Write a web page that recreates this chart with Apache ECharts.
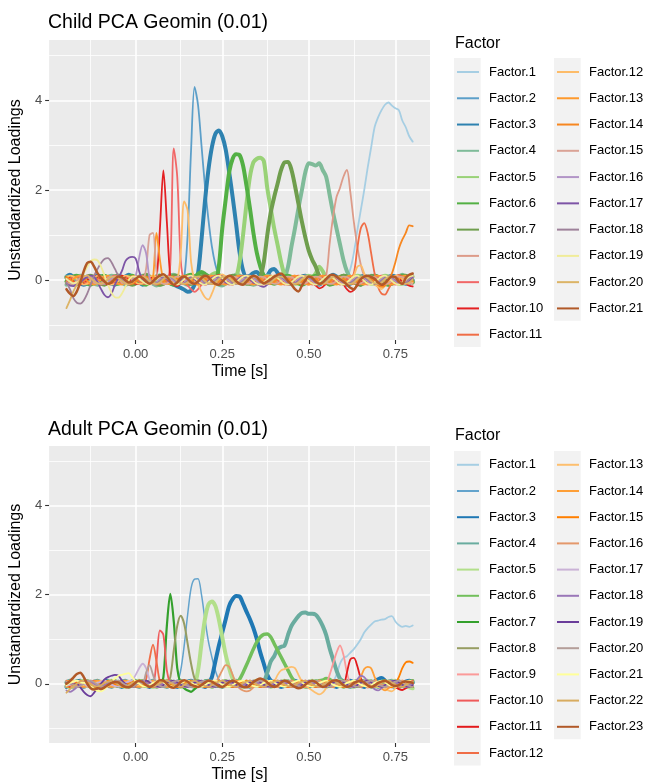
<!DOCTYPE html>
<html>
<head>
<meta charset="utf-8">
<script src="https://cdn.jsdelivr.net/npm/echarts@6/dist/echarts.min.js"></script>
<style>
html, body { margin: 0; padding: 0; background: #fff; }
#main_chart { width: 646px; height: 784px; }
</style>
</head>
<body>
<div id="main_chart"></div>
<script>
// time grid in seconds (-0.20 .. 0.80, step 0.01)
var times = [];
for (var i = 0; i <= 100; i++) times.push((i - 20) / 100);

var xTicks = [0, 0.25, 0.5, 0.75];
var xMinor = [-0.125, 0.125, 0.375, 0.625];
var yTicks = [0, 2, 4];
var yMinor = [-1, 1, 3, 5];

// Child PCA Geomin loadings (Factor.1 .. Factor.21)
var childF1 = [.03,.07,.08,.05,0,-.03,-.05,-.02,.03,.07, .08,.07,.03,0,-.03,-.07,-.05,0,.05,.08, .1,.07,.02,-.03,-.07,-.05,0,.05,.08,.07, .03,-.02,-.05,-.07,-.03,.02,.07,.1,.08,.03, -.02,-.07,-.08,-.05,0,.05,.08,.07,.03,-.02, -.05,-.07,-.03,.02,.07,.08,.05,0,-.05,-.08, -.07,-.02,.03,.08,.1,.07,.02,-.03,-.07,-.05, 0,.05,.08,.07,.03,-.02,-.05,-.03,.02,.07, .1,.1,.25,.6,1.1,1.55,2.0,2.5,2.95,3.4, 3.62,3.78,3.9,3.95,3.88,3.82,3.78,3.55,3.4,3.2, 3.08];
var childF2 = [-.05,-.08,-.07,-.02,.03,.07,.05,0,-.05,-.07, -.03,.02,.07,.08,.05,0,-.05,-.08,-.05,0, .05,.08,.07,.02,-.03,-.07,-.05,0,.05,.08, .07,.02,-.03,-.05,.05,1.0,2.9,4.3,3.9,3.0, 2.1,1.35,.75,.35,.1,0,-.05,-.07,-.03,.02, .05,.07,.03,-.02,-.07,-.08,-.05,0,.05,.07, .05,0,-.05,-.07,-.03,.02,.07,.08,.05,0, -.05,-.08,-.07,-.02,.03,.07,.08,.05,0,-.05, -.08,-.07,-.02,.05,.08,.07,.02,-.03,-.07,-.05, 0,.05,.08,.07,.02,-.03,-.07,-.05,0,.05, .07];
var childF3 = [.08,.12,.07,0,-.07,-.1,-.07,0,.07,.1, .08,.03,-.03,-.08,-.1,-.05,.02,.08,.12,.08, .02,-.05,-.1,-.08,-.03,.03,.08,.1,.05,-.02, -.07,-.1,-.14,-.17,-.21,-.26,-.23,-.1,.15,.9, 1.75,2.45,2.95,3.25,3.33,3.2,2.9,2.4,1.85,1.25, .62,.22,.08,.1,.16,.18,.1,.06,.1,.22, .25,.16,.06,0,-.07,-.08,-.03,.03,.08,.1, .05,-.02,-.08,-.1,-.05,.02,.08,.12,.08,.02, -.05,-.1,-.08,-.03,.03,.08,.1,.05,-.02,-.07, -.1,-.07,0,.07,.1,.08,.02,-.05,-.08,-.07, 0];
var childF4 = [-.1,-.07,0,.07,.1,.08,.03,-.03,-.08,-.1, -.07,0,.07,.1,.08,.02,-.05,-.1,-.08,-.03, .03,.08,.1,.05,-.02,-.08,-.12,-.08,-.02,.05, .1,.12,.07,0,-.07,-.1,-.08,-.02,.05,.1, .12,.08,.02,-.05,-.1,-.12,-.07,0,.07,.12, .1,.05,-.02,-.08,-.1,-.07,0,.07,.1,.08, .03,-.03,-.05,.05,.3,.75,1.15,1.6,2.0,2.4, 2.6,2.58,2.55,2.6,2.45,2.3,1.9,1.5,1.15,.8, .45,.2,.05,-.03,-.08,-.07,0,.07,.1,.08, .03,-.03,-.08,-.1,-.05,.02,.08,.12,.08,.02, -.05];
var childF5 = [.07,.02,-.05,-.08,-.07,-.02,.05,.08,.07,.02, -.05,-.08,-.07,0,.07,.1,.07,.02,-.05,-.08, -.07,0,.07,.1,.08,.02,-.05,-.1,-.08,-.02, .05,.1,.08,.03,-.03,-.08,-.08,-.03,.03,.08, .1,.07,.12,.16,.12,.06,.02,-.03,-.05,.05, .4,1.0,1.7,2.3,2.62,2.7,2.72,2.65,2.05,1.6, 1.15,.78,.4,.12,.04,-.03,-.08,-.07,0,.07, .1,.08,.15,.3,.2,.06,-.05,-.08,-.03,.03, -.08,-.07,0,.07,.1,.08,.02,-.05,-.08,-.07, 0,.07,.1,.08,.03,-.03,-.08,-.08,-.03,.03, .08];
var childF6 = [-.03,.03,.08,.1,.05,-.02,-.08,-.1,-.05,.02, .08,.1,.05,-.02,-.07,-.08,-.03,.03,.08,.1, .05,-.03,-.08,-.1,-.05,.02,.08,.1,.07,0, -.07,-.1,-.07,0,.07,.1,.12,.08,.14,.18, .14,.08,.03,-.03,.3,1.15,1.8,2.4,2.7,2.8, 2.78,2.55,2.1,1.6,1.05,.6,.3,.1,.02,-.05, -.08,-.05,.02,.08,.1,.07,0,-.07,-.1,-.07, 0,.07,.1,.08,.02,-.05,-.1,-.08,-.02,.05, .1,.08,.03,-.03,-.08,-.1,-.05,.02,.08,.1, .07,0,-.07,-.1,-.07,0,.07,.1,.08,.02, -.05];
var childF7 = [.05,-.02,-.07,-.08,-.03,.03,.08,.1,.05,-.02, -.08,-.1,-.05,.02,.08,.1,.07,0,-.07,-.1, -.07,.02,.08,.12,.08,0,-.07,-.1,-.08,-.02, .05,.1,.1,.03,-.03,-.08,-.08,-.03,.03,.08, .1,.07,.02,-.05,-.08,-.07,0,.07,.1,.08, .03,-.03,-.08,-.08,-.03,.03,.08,.4,1.0,1.5, 1.85,2.15,2.45,2.62,2.63,2.45,2.1,1.7,1.3,.95, .65,.45,.3,.1,.03,-.05,-.08,-.07,0,.07, .1,.08,.03,-.03,-.08,-.1,-.05,.02,.08,.1, .07,.02,-.05,-.08,-.08,-.03,.03,.08,.1,.05, -.02];
var childF8 = [-.07,-.02,.05,.08,.07,.02,-.05,-.08,-.07,0, .05,.08,.07,.02,-.05,-.08,-.07,-.02,.05,.08, .07,.02,-.05,-.08,-.07,0,.07,.08,.05,-.02, -.07,-.08,-.05,.02,.07,.08,.05,-.02,-.07,-.08, -.05,.02,.08,.1,.05,-.02,-.07,-.08,-.03,.03, .08,.08,.03,-.03,-.08,-.08,-.03,.03,.08,.08, .03,-.03,-.08,-.08,-.03,.03,.08,.08,.03,-.03, -.08,-.07,-.02,.05,.08,.1,.8,1.4,1.85,2.05, 2.3,2.45,1.95,1.3,.75,.35,.1,.03,-.05,-.08, -.05,.02,.07,.08,.05,-.02,-.07,-.08,-.03,.03, .07];
var childF9 = [.02,-.05,-.08,-.07,0,.07,.1,.07,0,-.07, -.1,-.07,0,.07,.1,.07,0,-.07,-.1,-.05, .02,.08,.1,.05,-.02,-.08,-.1,-.05,.02,0, .35,2.93,2.3,.45,-.05,-.12,-.2,-.26,-.2,-.1, 0,.08,.1,.05,-.02,-.07,-.08,-.03,.03,.08, .1,.05,-.02,-.07,-.08,-.03,.03,.08,.08,.03, -.03,-.08,-.08,-.03,.03,.08,.1,.05,-.02,-.07, -.1,-.07,0,.07,.1,.08,.02,-.05,-.08,-.08, -.03,.03,.08,.1,.05,-.02,-.07,-.1,-.07,0, .07,.1,.08,.02,-.05,-.1,-.08,-.02,.05,.08, .08];
var childF10 = [.08,.05,-.02,-.07,-.1,-.07,0,.07,.1,.08, .02,-.05,-.1,-.08,-.02,.05,.1,.08,.03,-.03, -.08,-.08,-.03,.03,.08,.03,.05,1.15,2.44,1.3, .08,-.1,-.13,-.08,-.02,.05,.08,.07,0,-.07, -.1,-.07,.02,.08,.12,.08,.02,-.07,-.1,-.07, 0,.07,.1,.08,0,-.07,-.1,-.08,-.02,.05, .1,.08,.02,-.07,-.1,-.08,-.02,.05,.1,.08, .03,-.05,-.12,-.18,-.15,-.08,0,.07,.03,-.07, -.1,-.2,-.26,-.22,-.12,-.07,.03,.08,.05,-.03, -.1,-.13,-.08,-.02,.05,.08,.05,-.03,-.08,-.12, -.14];
var childF11 = [-.03,.03,.08,.08,.03,-.03,-.08,-.08,-.03,.03, .08,.08,.03,-.03,-.08,-.08,-.03,.03,.08,.08, .03,-.03,-.08,-.08,-.03,.03,.08,.08,.03,-.03, -.08,-.08,-.03,.03,.08,.1,.05,-.02,-.07,-.1, -.07,0,.07,.1,.07,0,-.07,-.1,-.07,0, .07,.1,.07,0,-.07,-.1,-.07,0,.07,.1, .07,0,-.07,-.1,-.07,0,.07,.1,.07,0, -.07,-.1,-.07,0,.07,.1,.07,0,-.07,-.1, -.07,0,.03,.15,.7,1.15,1.27,1.05,.6,.15, -.15,-.3,-.32,-.2,-.05,.08,.12,.08,0,-.05, -.03];
var childF12 = [.05,.1,.08,.02,-.05,-.1,-.08,-.02,.05,.1, .08,.02,-.05,-.1,-.08,-.02,.05,.1,.08,.02, -.05,-.08,-.07,0,.07,.1,.07,0,-.07,-.08, -.05,.02,.03,.6,1.75,1.55,.4,0,-.1,-.25, -.38,-.43,-.3,-.1,.08,.13,.08,0,-.07,-.08, -.03,.03,.08,.1,.05,-.02,-.08,-.1,-.05,.02, .08,.1,.05,-.02,-.08,-.1,-.05,.02,.08,.1, .05,-.02,-.08,-.1,-.05,.02,.08,.1,.05,-.02, -.08,-.07,0,.1,.3,.33,.15,.03,-.07,-.1, -.15,-.2,-.12,-.03,.05,.1,.08,.02,-.05,-.08, -.05];
var childF13 = [-.08,-.05,.02,.08,.1,.05,-.02,-.08,-.1,-.05, .02,.08,.1,.05,-.02,-.08,-.1,-.05,.02,.08, .1,.05,-.02,-.08,-.03,.05,1.05,.45,0,-.08, -.08,-.03,.03,.08,.1,.05,-.02,-.08,-.1,-.05, .02,.08,.1,.05,-.02,-.08,-.1,-.05,.02,.08, .1,.05,-.02,-.08,-.1,-.05,.02,.08,.1,.05, -.02,-.08,-.1,-.05,.02,.08,.1,.05,-.02,-.08, -.1,-.05,.02,.08,.1,.05,-.02,-.08,-.1,-.05, .02,.08,.1,.05,-.02,-.08,-.1,-.05,.02,.08, .1,.05,-.02,-.08,-.1,-.05,.02,.08,.1,.05, -.02];
var childF14 = [.07,.02,-.05,-.08,-.07,0,.07,.08,.05,-.02, -.07,-.08,-.03,.03,.08,.08,.03,-.03,-.08,-.08, -.03,.03,.08,.08,.03,-.03,-.08,-.08,-.03,.03, .08,.08,.03,-.03,-.08,-.08,-.03,.03,.08,.08, .03,-.03,-.08,-.08,-.03,.03,.08,.08,.03,-.03, -.08,-.08,-.03,.03,.08,.08,.03,-.03,-.08,-.08, -.03,.03,.08,.08,.03,-.03,-.08,-.08,-.03,.03, .08,.08,.03,-.03,-.08,-.08,-.03,.03,.08,.08, .03,-.03,-.08,-.08,-.03,.03,.08,.08,.03,-.03, -.1,-.15,-.12,.02,.15,.4,.7,.9,1.05,1.22, 1.2];
var childF15 = [-.05,-.08,-.07,-.02,.05,.08,.07,.02,-.05,-.08, -.07,-.02,.05,.08,.07,.02,-.05,-.08,-.07,-.02, .05,.08,0,.25,1.0,1.05,.2,-.03,-.08,-.07, -.02,.05,.08,.07,.02,-.05,-.08,-.07,-.02,.05, .08,.07,.02,-.05,-.08,-.07,-.02,.05,.08,.07, .02,-.05,-.08,-.07,-.02,.05,.08,.07,.02,-.05, -.08,-.07,-.02,.05,.08,.07,.02,-.05,-.08,-.07, -.02,.05,.08,.07,.02,-.05,-.08,-.07,-.02,.05, .08,.07,.02,-.05,-.08,-.07,-.02,.05,.08,.07, .02,-.05,-.08,-.07,-.02,.05,.08,.07,.02,-.05, -.08];
var childF16 = [.03,-.03,-.08,-.08,-.03,.03,.08,.08,.03,-.03, -.08,-.08,-.03,.03,.08,.08,.03,-.03,-.08,0, .1,.5,.78,.6,.05,-.08,-.05,.02,.07,.08, .05,-.02,-.07,-.08,-.05,.02,.07,.08,.05,-.02, -.07,-.08,-.05,.02,.07,.08,.05,-.02,-.07,-.08, -.05,.02,.07,.08,.05,-.02,-.07,-.08,-.05,.02, .07,.08,.05,-.02,-.07,-.08,-.05,.02,.07,.08, .05,-.02,-.07,-.08,-.05,.02,.07,.08,.05,-.02, -.07,-.08,-.05,.02,.07,.08,.05,-.02,-.07,-.08, -.05,.02,.07,.08,.05,-.02,-.07,-.08,-.05,.02, .07];
var childF17 = [-.08,-.12,-.13,-.1,-.05,.02,.07,.1,.08,-.05, -.2,-.33,-.38,-.3,-.1,.05,.2,.42,.5,.52, .48,.2,0,-.08,-.07,-.02,.05,.08,.07,.02, -.05,-.08,-.07,-.02,.05,.08,.07,.02,-.05,-.08, -.07,-.02,.05,.08,.07,.02,-.05,-.08,-.07,-.02, .05,.08,.07,.02,-.05,-.08,-.13,-.15,-.1,-.02, .05,.08,.07,.02,-.05,-.08,-.07,-.02,.05,.08, .07,.02,-.05,-.08,-.07,-.02,.05,.08,.07,.02, -.05,-.08,-.07,-.02,.05,.08,.07,.02,-.05,-.08, -.07,-.02,.05,.08,.07,.02,-.05,-.08,-.07,-.02, .05];
var childF18 = [-.05,-.2,-.4,-.5,-.52,-.45,-.3,-.1,.1,.25, .38,.47,.49,.4,.25,.1,0,-.08,-.07,-.02, .05,.08,.07,.02,-.05,-.08,-.07,-.02,.05,.08, .07,.02,-.05,-.08,-.07,-.02,.05,.08,.07,.02, -.05,-.08,-.07,-.02,.05,.08,.07,.02,-.05,-.08, -.07,-.02,.05,.08,.07,.02,-.05,-.08,-.07,-.02, .05,.08,.07,.02,-.05,-.08,-.07,-.02,.05,.08, .07,.02,-.05,-.08,-.07,-.02,.05,.08,.07,.02, -.05,-.08,-.07,-.02,.05,.08,.07,.02,-.05,-.08, -.07,-.02,.05,.08,.07,.02,-.05,-.08,-.07,.03, .12];
var childF19 = [.03,-.03,-.07,-.05,0,.15,.3,.42,.46,.44, .3,.1,-.1,-.28,-.38,-.39,-.3,-.15,0,.08, .08,.03,-.03,-.08,-.1,-.05,.02,.08,.1,.05, -.02,-.08,-.1,-.05,.02,.08,.1,.05,-.02,-.08, -.1,-.05,.02,.08,.1,.05,-.02,-.08,-.1,-.05, .02,.08,.1,.05,-.02,-.08,-.1,-.05,.02,.08, .1,.05,-.02,-.08,-.1,-.05,.02,.08,.1,.05, -.02,-.08,-.1,-.05,.02,.08,.1,.05,-.02,-.08, -.1,-.05,.02,.08,.1,.05,-.02,-.08,-.1,-.05, .02,.08,.1,.05,-.02,-.08,-.1,-.05,.02,.08, .1];
var childF20 = [-.62,-.45,-.25,-.1,0,.08,.1,.05,-.02,-.07, -.08,-.05,.02,.07,.08,.05,-.02,-.07,-.08,-.05, .02,.07,.08,.05,-.02,-.07,-.08,-.05,.02,.07, .08,.05,-.02,-.07,-.08,-.05,.02,.07,.08,.05, -.02,-.07,-.08,-.05,.02,.07,.08,.05,-.02,-.07, -.08,-.05,.02,.07,.08,.05,-.02,-.07,-.08,-.05, .02,.07,.08,.05,-.02,-.07,-.08,-.05,.02,.07, .08,.05,-.02,-.07,-.08,-.05,.02,.07,.08,.05, -.02,-.07,-.08,-.05,.02,.07,.08,.05,-.02,-.07, -.08,-.05,.02,.07,.08,.05,-.02,-.07,-.08,-.05, .02];
var childF21 = [-.2,-.3,-.35,-.25,-.05,.2,.38,.41,.3,.15, .05,-.03,-.08,-.05,.03,.08,.07,0,-.05,-.03, .03,.08,.05,-.03,-.08,-.03,.05,.1,.13,.07, -.03,-.1,-.05,.05,.08,.03,-.05,-.08,-.03,.05, .1,.07,-.02,-.08,-.1,-.03,.05,.1,.07,-.02, -.08,-.1,-.03,.05,.1,.07,-.02,-.07,-.03,.02, .08,.12,.15,.08,-.02,-.1,-.2,-.25,-.12,0, .08,.05,-.03,-.08,-.05,.03,.1,.12,.08,.02, -.03,-.1,-.17,-.2,-.1,.02,.08,.1,.07,.03, -.05,-.1,-.07,.02,.08,.07,-.03,-.08,.05,.12, .15];

// Adult PCA Geomin loadings (Factor.1 .. Factor.23)
var adultF1 = [-.03,.02,.05,.07,.03,-.02,-.05,-.07,-.03,.02, .05,.07,.03,-.02,-.05,-.07,-.03,.02,.05,.07, .03,-.02,-.05,-.07,-.03,.02,.05,.07,.03,-.02, -.05,-.07,-.03,.02,.05,.07,.03,-.02,-.05,-.07, -.03,.02,.05,.07,.03,-.02,-.05,-.07,-.03,.02, .05,.07,.03,-.02,-.05,-.07,-.03,.02,.05,.07, .03,-.02,-.05,-.07,-.03,.02,.05,.07,.03,-.02, -.05,-.07,-.03,.02,.05,.07,.03,.05,.2,.45, .58,.62,.7,.78,.88,1.0,1.15,1.25,1.33,1.4, 1.42,1.44,1.45,1.5,1.52,1.4,1.32,1.28,1.3,1.28, 1.31];
var adultF2 = [.05,.02,-.03,-.07,-.05,0,.05,.07,.03,-.02, -.05,-.07,-.03,.02,.05,.07,.03,-.02,-.05,-.07, -.03,.02,.05,.07,.03,-.02,-.05,-.07,-.03,.02, .05,.07,.05,.3,.85,1.55,2.15,2.35,2.36,2.0, 1.45,.95,.6,.3,.1,.03,-.03,-.07,-.05,0, .05,.07,.03,-.02,-.05,-.07,-.03,.02,.05,.07, .03,-.02,-.05,-.07,-.03,.02,.05,.07,.03,-.02, -.05,-.07,-.03,.02,.05,.07,.03,-.02,-.05,-.07, -.03,.02,.05,.07,.03,-.02,-.05,-.07,-.03,.02, .05,.07,.03,-.02,-.05,-.07,-.03,.02,.05,.07, .03];
var adultF3 = [-.07,-.03,.02,.05,.07,.03,-.02,-.05,-.07,-.03, .02,.05,.07,.03,-.02,-.05,-.07,-.03,.02,.05, .07,.03,-.02,-.05,-.07,-.03,.02,.05,.07,.03, -.02,-.05,-.07,-.03,.02,.05,.07,.03,-.02,-.05, -.07,0,.15,.5,.85,1.15,1.45,1.75,1.9,1.97, 1.96,1.8,1.62,1.45,1.25,1.0,.7,.45,.2,.07, .03,-.03,-.07,-.05,0,.05,.07,.03,-.02,-.05, -.07,-.03,.02,.05,.07,.03,-.02,-.05,-.07,-.03, .02,.05,.07,.03,-.02,-.05,-.07,-.03,.02,.05, .1,.13,.07,0,-.05,-.07,-.03,.02,.05,.07, .03];
var adultF4 = [.03,.07,.05,0,-.05,-.07,-.03,.02,.05,.07, .03,-.02,-.05,-.07,-.03,.02,.05,.07,.03,-.02, -.05,-.07,-.03,.02,.05,.07,.03,-.02,-.05,-.07, -.03,.02,.05,.07,.03,-.02,-.05,-.07,-.03,.02, .05,.07,.03,-.02,-.05,-.07,-.03,.02,.05,.07, .03,-.02,-.05,-.07,-.03,.02,.05,.06,.25,.5, .62,.78,.83,.86,1.1,1.3,1.42,1.52,1.59,1.6, 1.57,1.57,1.55,1.45,1.3,1.1,.8,.55,.3,.12, .05,-.03,-.07,-.05,0,.05,.07,.03,-.02,-.05, -.07,-.03,.02,.05,.07,.03,-.02,-.05,-.07,-.03, .02];
var adultF5 = [-.05,-.07,-.03,.02,.05,.07,.03,-.02,-.05,-.07, -.03,.02,.05,.07,.03,-.02,-.05,-.07,-.03,.02, .05,.07,.03,-.02,-.05,-.07,-.03,.02,.05,.07, .03,-.02,-.05,-.07,-.03,.02,.05,.03,.3,.9, 1.45,1.78,1.85,1.75,1.45,1.05,.65,.35,.12,.03, -.03,-.07,-.05,0,.05,.07,.03,-.02,-.05,-.07, -.03,.02,.05,.07,.03,-.02,-.05,-.07,-.03,.02, .05,.07,.03,-.02,-.05,-.07,-.03,.02,.05,.07, .03,-.02,-.05,-.07,-.03,.02,.05,.07,.03,-.02, -.05,-.07,-.03,.02,.05,.07,.03,-.02,-.05,-.08, -.1];
var adultF6 = [.02,-.03,-.07,-.05,0,.05,.07,.03,-.02,-.05, -.07,-.03,.02,.05,.07,.03,-.02,-.05,-.07,-.03, .02,.05,.07,.03,-.02,-.05,-.07,-.03,.02,.05, .07,.03,-.02,-.05,-.07,-.03,.02,.05,.07,.03, -.02,-.05,-.07,-.03,.02,.05,.07,.03,-.02,0, .1,.25,.42,.6,.78,.94,1.05,1.11,1.12,1.05, .9,.75,.6,.45,.3,.15,.05,0,-.05,-.07, -.03,.02,.05,.07,.08,.12,.1,.03,-.02,-.05, -.07,-.03,.02,.05,.07,.03,-.02,-.05,-.07,-.03, .02,.05,.07,.03,-.02,-.05,-.07,-.03,.02,.05, .07];
var adultF7 = [-.03,.02,.05,.07,.03,-.02,-.05,-.07,-.03,.02, .05,.07,.03,-.02,-.05,-.07,-.03,.02,.05,.07, .03,-.02,-.05,-.07,-.03,.02,.05,0,.15,1.3, 2.02,1.4,.35,0,-.1,-.15,-.18,-.12,-.05,.03, .07,.05,0,-.05,-.07,-.03,.02,.05,.07,.03, -.02,-.05,-.07,-.03,.02,.05,.07,.03,-.02,-.05, -.07,-.03,.02,.05,.07,.03,-.02,-.05,-.07,-.03, .02,.05,.07,.03,-.02,-.05,-.07,-.03,.02,.05, .07,.03,-.02,-.05,-.07,-.03,.02,.05,.07,.03, -.02,-.05,-.07,-.03,.02,.05,.07,.03,-.02,-.05, -.07];
var adultF8 = [.05,.02,-.03,-.07,-.05,0,.05,.07,.03,-.02, -.05,-.07,-.03,.02,.05,.07,.03,-.02,-.05,-.07, -.03,.02,.05,.07,.03,-.02,-.05,-.07,-.03,0, .15,.75,1.3,1.53,1.35,.9,.45,.12,0,-.05, -.07,-.03,.02,.05,.07,.03,-.02,-.05,-.07,-.03, .02,.05,.07,.03,-.02,-.05,-.07,-.03,.02,.05, .07,.03,-.02,-.05,-.07,-.03,.02,.05,.07,.03, -.02,-.05,-.07,-.03,.02,.05,.07,.03,-.02,-.05, -.07,-.03,.02,.05,.07,.03,-.02,-.05,-.07,-.03, .02,.05,.07,.03,-.02,-.05,-.07,-.03,.02,.05, .07];
var adultF9 = [-.02,-.05,-.07,-.03,.02,.05,.07,.03,-.02,-.05, -.07,-.03,.02,.05,.07,.03,-.02,-.05,-.07,-.03, .02,.05,.07,.03,-.02,-.05,-.07,-.03,.02,.05, .07,.03,-.02,-.05,-.07,-.03,.02,.05,.07,.03, -.02,-.05,-.07,-.03,.02,.05,.07,.03,-.02,-.05, -.07,-.03,.02,.05,.07,.03,-.02,-.05,-.07,-.03, .02,.05,.07,.03,-.02,-.05,-.07,-.03,.02,.05, .07,.03,-.02,-.05,-.07,0,.2,.45,.7,.86, .65,.25,0,-.07,-.03,.02,.05,.07,.03,-.02, -.05,-.07,-.03,.02,.05,.07,.03,-.02,-.05,-.07, -.03];
var adultF10 = [.03,.07,.05,0,-.05,-.07,-.03,.02,.05,.07, .03,-.02,-.05,-.07,-.03,.02,.05,.07,.03,-.02, -.05,-.07,-.03,.02,.05,0,.5,1.2,1.1,.3, 0,-.05,-.07,-.03,.02,.05,.07,.03,-.02,-.05, -.07,-.03,.02,.05,.07,.03,-.02,-.05,-.07,-.03, .02,.05,.07,.03,-.02,-.05,-.07,-.03,.02,.05, .07,.03,-.02,-.05,-.07,-.03,.02,.05,.07,.03, -.02,-.05,-.07,-.03,.02,.05,.07,.03,-.02,-.05, -.07,-.03,.02,.05,.07,.03,-.02,-.05,-.07,-.03, .02,.05,.07,.03,-.02,-.05,-.07,-.03,.02,.05, .07];
var adultF11 = [-.05,-.07,-.03,.02,.05,.07,.03,-.02,-.05,-.07, -.03,.02,.05,.07,.03,-.02,-.05,-.07,-.03,.02, .05,.07,.03,-.02,-.05,-.07,-.03,.02,.05,.07, .03,-.02,-.05,-.07,-.03,.02,.05,.07,.03,-.02, -.05,-.07,-.03,.02,.05,.07,.03,-.02,-.05,-.07, -.03,.02,.05,.07,.03,-.02,-.05,-.07,-.03,.02, .05,.07,.03,-.02,-.05,-.07,-.03,.02,.05,.07, .03,-.02,-.05,-.07,-.03,.02,.05,.07,.03,-.02, -.03,.25,.55,.58,.4,.12,0,-.08,-.07,-.03, .02,.05,.07,.03,-.02,-.08,-.12,-.14,-.1,-.05, 0];
var adultF12 = [.07,.03,-.02,-.05,-.07,-.03,.02,.05,.07,.03, -.02,-.05,-.07,-.03,.02,.05,.07,.03,-.02,-.05, -.07,-.03,0,.1,.55,.88,.5,.05,-.03,-.07, -.03,.02,.05,.07,.03,-.02,-.05,-.07,-.03,.02, .05,.07,.03,-.02,-.05,-.07,-.03,.02,.05,.07, .03,-.02,-.05,-.07,-.03,.02,.05,.07,.03,-.02, -.05,-.07,-.03,.02,.05,.07,.03,-.02,-.05,-.07, -.03,.02,.05,.07,.03,-.02,-.05,-.07,-.03,.02, .05,.07,.03,-.02,-.05,-.07,-.03,.02,.05,.07, .03,-.02,-.05,-.07,-.03,.02,.05,.07,.03,-.02, -.05];
var adultF13 = [-.02,.03,.07,.05,0,-.05,-.07,-.03,.02,.05, .07,.03,-.02,-.05,-.07,-.03,.02,.05,.07,.03, -.02,-.05,-.07,-.03,.02,.05,.07,.03,-.02,-.05, -.07,-.03,.02,.05,.07,.03,-.02,-.05,-.07,-.03, .02,.05,.07,.03,-.02,-.05,-.07,-.03,.02,.05, .07,.03,-.02,-.05,-.07,-.03,.02,.05,.07,0, .05,.2,.3,.33,.36,.38,.35,.2,.05,-.05, -.1,-.15,-.2,-.24,-.2,-.1,0,.05,.07,.03, -.02,-.05,-.07,-.03,.02,.05,.07,.03,-.02,-.05, -.07,-.05,-.1,-.15,-.17,-.1,.02,.03,-.02,-.03, .02];
var adultF14 = [.05,.07,.03,-.02,-.05,-.07,-.03,.02,.05,.07, .03,-.02,-.05,-.07,-.03,.02,.05,.07,.03,-.02, -.05,-.07,-.03,.02,.05,.07,.03,-.02,-.05,-.07, -.03,.02,.05,.07,.03,-.02,-.05,-.07,-.03,.02, .05,.07,.03,-.02,-.05,-.07,-.03,.02,.05,.07, .03,-.02,-.05,-.07,-.03,.02,.05,.07,.03,-.02, -.05,-.07,-.03,.02,.05,.07,.03,-.02,-.05,-.07, -.03,.02,.05,.07,.03,-.02,-.05,-.07,-.03,.02, .05,.07,.03,-.02,.02,.15,.33,.38,.35,.15, 0,-.1,-.15,-.1,-.05,.03,.07,.03,-.02,-.05, -.07];
var adultF15 = [-.07,-.03,.02,.05,.07,.03,-.02,-.05,-.07,-.03, .02,.05,.07,.03,-.02,-.05,-.07,-.03,.02,.05, .07,.03,-.02,-.05,-.07,-.03,.02,.05,.07,.03, -.02,-.05,-.07,-.03,.02,.05,.07,.03,-.02,-.05, -.07,-.03,.02,.05,.07,.03,-.02,-.05,-.07,-.03, .02,.05,.07,.03,-.02,-.05,-.07,-.03,.02,.05, .07,.03,-.02,-.05,-.07,-.03,.02,.05,.07,.03, -.02,-.05,-.07,-.03,.02,.05,.07,.03,-.02,-.05, -.07,-.03,.02,.05,.07,.03,-.02,-.05,-.07,-.03, .02,.05,.03,-.05,-.08,0,.15,.35,.48,.5, .47];
var adultF16 = [.02,-.03,-.07,-.05,0,.05,.07,.03,-.02,-.05, -.07,-.03,.02,.05,.07,.03,-.02,-.05,-.07,-.03, .02,.05,.07,.03,-.02,-.05,-.07,-.03,.02,.05, .07,.03,-.02,-.05,-.07,-.03,.02,.05,.07,.03, -.02,-.05,-.07,0,.15,.3,.42,.38,.2,0, -.1,-.15,-.17,-.15,-.08,0,.05,.07,.03,-.02, -.05,-.07,-.03,.02,.05,.07,.03,-.02,-.05,-.07, -.03,.02,.05,.07,.03,-.02,-.05,-.07,-.03,.02, .05,.07,.03,-.02,-.05,-.07,-.03,.02,.05,.07, .03,-.02,-.05,-.07,-.03,.02,.05,.07,.03,-.02, -.05];
var adultF17 = [-.05,-.02,.03,.07,.05,0,-.05,-.07,-.03,.02, .05,.07,.03,-.02,-.05,-.07,-.03,.02,.05,.08, .2,.35,.45,.35,.1,0,-.05,-.07,-.03,.02, .05,.07,.03,-.02,-.05,-.07,-.03,.02,.05,.07, .03,-.02,-.05,-.07,-.03,.02,.05,.07,.03,-.02, -.05,-.07,-.03,.02,.05,.07,.03,-.02,-.05,-.07, -.03,.02,.05,.07,.03,-.02,-.05,-.07,-.03,.02, .05,.07,.03,-.02,-.05,-.07,-.03,.02,.05,.07, .03,-.02,-.05,-.07,-.03,.02,.05,.07,.03,-.02, -.05,-.07,-.03,.02,.05,.07,.03,-.02,-.05,-.07, -.03];
var adultF18 = [-.15,-.18,-.14,-.08,-.03,.03,.07,.05,0,-.05, -.07,-.03,.02,.05,.07,.03,-.02,-.05,-.07,-.03, .02,.05,.07,.03,-.02,-.05,-.07,-.03,.02,.05, .07,.03,-.02,-.05,-.07,-.03,.02,.05,.07,.03, -.02,-.05,-.07,-.03,.02,.05,.07,.03,-.02,-.05, -.07,-.03,.02,.05,.07,.03,-.02,-.05,-.07,-.03, .02,.05,.07,.03,-.02,-.05,-.07,-.03,.02,.05, .07,.03,-.02,-.05,-.07,-.03,.02,.05,.07,.03, -.02,-.05,-.07,0,.1,.18,.15,.05,-.05,-.12, -.15,-.1,-.05,.03,.07,.03,-.02,-.05,-.07,-.03, .02];
var adultF19 = [.03,.02,-.02,0,-.08,-.18,-.25,-.28,-.2,-.1, 0,.1,.15,.18,.2,.18,.08,0,-.05,-.07, -.03,.02,.05,.07,.03,-.02,-.05,-.07,-.03,.02, .05,.07,.03,-.02,-.05,-.07,-.03,.02,.05,.07, .03,-.02,-.05,-.07,-.03,.02,.05,.07,.03,-.02, -.05,-.07,-.03,.02,.05,.07,.03,-.02,-.05,-.07, -.03,.02,.05,.07,.03,-.02,-.05,-.07,-.03,.02, .05,.07,.03,-.02,-.05,-.07,-.03,.02,.05,.07, .03,-.02,-.05,-.07,-.03,.02,.05,.07,.03,-.02, -.05,-.07,-.03,.02,.05,.07,.03,-.02,-.05,-.07, -.03];
var adultF20 = [.05,.02,-.03,-.07,-.05,0,.05,.07,.03,-.02, -.05,-.07,-.03,.02,.05,.07,.03,-.02,-.05,-.07, -.03,.02,0,.25,.42,.2,0,-.05,-.07,-.03, .02,.05,.07,.03,-.02,-.05,-.07,-.03,.02,.05, .07,.03,-.02,-.05,-.07,-.03,.02,.05,.07,.03, -.02,-.05,-.07,-.03,.02,.05,.07,.03,-.02,-.05, -.07,-.03,.02,.05,.07,.03,-.02,-.05,-.07,-.03, .02,.05,.07,.03,-.02,-.05,-.07,-.03,.02,.05, .07,.03,-.02,-.05,-.07,-.03,.02,.05,.07,.03, -.02,-.05,-.07,-.03,.02,.05,.07,.03,-.02,-.05, -.07];
var adultF21 = [-.03,.02,.05,.07,.03,.02,0,-.05,-.12,-.16, -.17,-.12,-.05,.05,.12,.18,.2,.22,.24,.15, .05,0,-.05,-.07,-.03,.02,.05,.07,.03,-.02, -.05,-.07,-.03,.02,.05,.07,.03,-.02,-.05,-.07, -.03,.02,.05,.07,.03,-.02,-.05,-.07,-.03,.02, .05,.07,.03,-.02,-.05,-.07,-.03,.02,.05,.07, .03,-.02,-.05,-.07,-.03,.02,.05,.07,.03,-.02, -.05,-.07,-.03,.02,.05,.07,.03,-.02,-.05,-.07, -.03,.02,.05,.07,.03,-.02,-.05,-.07,-.03,.02, .05,.07,.03,-.02,-.05,-.07,-.03,.02,.05,.07, .03];
var adultF22 = [-.2,-.12,-.05,0,.05,.07,.03,-.02,-.05,-.07, -.03,.02,.05,.07,.03,-.02,-.05,-.07,-.03,.02, .05,.07,.03,-.02,-.05,-.07,-.03,.02,.05,.07, .03,-.02,-.05,-.07,-.03,.02,.05,.07,.03,-.02, -.05,-.07,-.03,.02,.05,.07,.03,-.02,-.05,-.07, -.03,.02,.05,.07,.03,-.02,-.05,-.07,-.03,.02, .05,.07,.03,-.02,-.05,-.07,-.03,.02,.05,.07, .03,-.02,-.05,-.07,-.03,.02,.05,.07,.03,-.02, -.05,-.07,-.03,.02,.05,.07,.03,-.02,-.05,-.07, -.03,.02,.05,.07,.03,-.02,-.05,-.07,-.03,.02, .05];
var adultF23 = [0,.06,.14,.22,.25,.15,0,-.1,-.13,-.1, -.12,-.08,-.03,.02,.04,.03,-.03,-.07,-.08,-.04, .03,.07,.04,-.03,-.07,-.04,.03,.08,.07,0, -.07,-.09,-.04,.04,.08,.05,-.02,-.05,-.07,-.03, .03,.07,.05,0,-.05,-.07,-.03,.04,.07,.04, -.02,-.07,-.08,-.03,.04,.09,.12,.09,.03,-.04, -.07,-.04,.03,.07,.05,-.02,-.07,-.1,-.08,-.02, .04,.07,.04,-.03,-.07,-.05,.02,.07,.08,.04, -.03,-.07,-.05,.02,.05,.07,.03,-.04,-.07,-.04, .02,.05,.07,.03,-.03,-.05,-.03,.03,.05,.04, .02];

var childValues = [childF1, childF2, childF3, childF4, childF5, childF6, childF7, childF8, childF9, childF10,
    childF11, childF12, childF13, childF14, childF15, childF16, childF17, childF18, childF19, childF20, childF21];
var adultValues = [adultF1, adultF2, adultF3, adultF4, adultF5, adultF6, adultF7, adultF8, adultF9, adultF10,
    adultF11, adultF12, adultF13, adultF14, adultF15, adultF16, adultF17, adultF18, adultF19, adultF20,
    adultF21, adultF22, adultF23];

// colours (Paired palette stretched to 21 / 23 levels)
var childColors = ['#A6CEE3','#5C9FC9','#2E82B0','#7FBB99','#99D277','#53B044','#6F9E4D','#DD9B89','#F16767','#E42022',
    '#F06D46','#FDBC69','#FE992C','#F78720','#DAA396','#B295C7','#7D54A6','#9E819A','#F0EC99','#DCB466','#B15928'];
var adultColors = ['#A6CEE3','#63A3CC','#1F78B4','#69AC9F','#B2DF8A','#72BF5B','#33A02C','#979D62','#FB9A99','#EF5A5A',
    '#E31A1C','#F06D46','#FDBF6F','#FE9F37','#FF7F00','#E4986B','#CAB2D6','#9A77B8','#6A3D9A','#B49E99',
    '#FFFF99','#D8AC60','#B15928'];
var childWidths = [1.8,1.8,4,4,4,4,4,1.8,1.8,1.8,1.8,1.8,1.8,1.8,1.8,1.8,1.8,1.8,1.8,1.8,2.5];
var adultWidths = [1.8,1.5,4,4,4,3.5,2.2,2,1.8,1.8,1.8,1.8,1.8,1.8,1.8,1.8,1.8,1.8,1.8,1.8,1.8,1.8,2.5];

var fontFamily = '"Liberation Sans", Arial, Helvetica, sans-serif';

// ggplot-like white grid lines, drawn under the data
function gridMarkLine() {
    var d = [];
    yTicks.forEach(function (v) { d.push({ yAxis: v, lineStyle: { width: 1.6 } }); });
    yMinor.forEach(function (v) { d.push({ yAxis: v, lineStyle: { width: 0.8 } }); });
    xTicks.forEach(function (v) { d.push({ xAxis: v, lineStyle: { width: 1.6 } }); });
    xMinor.forEach(function (v) { d.push({ xAxis: v, lineStyle: { width: 0.8 } }); });
    return {
        silent: true, symbol: ['none', 'none'], z: 1, animation: false,
        label: { show: false }, emphasis: { disabled: true },
        lineStyle: { color: '#ffffff', type: 'solid' },
        data: d
    };
}

function makeSeries(prefix, values, colors, widths, idx) {
    return values.map(function (vals, k) {
        var s = {
            type: 'line',
            name: prefix + ' Factor.' + (k + 1),
            xAxisIndex: idx, yAxisIndex: idx,
            data: times.map(function (t, i) { return [t, vals[i]]; }),
            showSymbol: false, symbol: 'none',
            smooth: 0.3,
            color: colors[k],
            itemStyle: { color: colors[k] },
            lineStyle: { color: colors[k], width: widths[k], cap: 'round', join: 'round' },
            emphasis: { disabled: true },
            silent: true,
            z: 2
        };
        if (k === 0) s.markLine = gridMarkLine();
        return s;
    });
}

function names(prefix, from, to) {
    var out = [];
    for (var k = from; k <= to; k++) out.push(prefix + ' Factor.' + k);
    return out;
}

function legendCol(data, left, top, gap) {
    return {
        orient: 'vertical', left: left, top: top, padding: 0,
        itemGap: gap, itemWidth: 22, itemHeight: 2, icon: 'rect',
        selectedMode: false,
        formatter: function (n) { return n.replace(/^(Child|Adult) /, ''); },
        textStyle: { fontSize: 13, color: '#000', lineHeight: 14, padding: [0, 0, 0, 5], fontFamily: fontFamily },
        data: data
    };
}

function xAxisOpt(gi) {
    return {
        gridIndex: gi, type: 'value', min: -0.25, max: 0.85,
        axisLine: { show: false, onZero: false },
        axisTick: { show: true, customValues: xTicks, length: 4, lineStyle: { color: '#333333', width: 1.1 } },
        axisLabel: { customValues: xTicks, color: '#4D4D4D', fontSize: 13, margin: 8, fontFamily: fontFamily,
            formatter: function (v) { return v.toFixed(2); } },
        splitLine: { show: false },
        name: 'Time [s]', nameLocation: 'middle', nameGap: 24,
        nameTextStyle: { color: '#000', fontSize: 16, fontFamily: fontFamily }
    };
}

function yAxisOpt(gi) {
    return {
        gridIndex: gi, type: 'value', min: -1.33, max: 5.34,
        axisLine: { show: false, onZero: false },
        axisTick: { show: true, customValues: yTicks, length: 4, lineStyle: { color: '#333333', width: 1.1 } },
        axisLabel: { customValues: yTicks, color: '#4D4D4D', fontSize: 13, margin: 7, fontFamily: fontFamily },
        splitLine: { show: false },
        name: 'Unstandardized Loadings', nameLocation: 'middle', nameGap: 20, nameRotate: 90,
        nameTextStyle: { color: '#000', fontSize: 16, fontFamily: fontFamily }
    };
}

var myChart = echarts.init(document.getElementById('main_chart'), null, { renderer: 'canvas' });

var option = {
    animation: false,
    backgroundColor: '#ffffff',
    textStyle: { fontFamily: fontFamily },
    title: [
        { text: 'Child PCA Geomin (0.01)', left: 48, top: 12.5, padding: 0,
          textStyle: { fontSize: 19.5, fontWeight: 'normal', color: '#000', fontFamily: fontFamily } },
        { text: 'Adult PCA Geomin (0.01)', left: 48, top: 419.5, padding: 0,
          textStyle: { fontSize: 19.5, fontWeight: 'normal', color: '#000', fontFamily: fontFamily } },
        { text: 'Factor', left: 455, top: 35.5, padding: 0,
          textStyle: { fontSize: 16, fontWeight: 'normal', color: '#000', fontFamily: fontFamily } },
        { text: 'Factor', left: 455, top: 428, padding: 0,
          textStyle: { fontSize: 16, fontWeight: 'normal', color: '#000', fontFamily: fontFamily } }
    ],
    grid: [
        { left: 48, top: 40, width: 382, height: 300, show: true, backgroundColor: '#EBEBEB', borderWidth: 0 },
        { left: 48, top: 446, width: 382, height: 300, show: true, backgroundColor: '#EBEBEB', borderWidth: 0 }
    ],
    xAxis: [xAxisOpt(0), xAxisOpt(1)],
    yAxis: [yAxisOpt(0), yAxisOpt(1)],
    legend: [
        legendCol(names('Child', 1, 11), 457, 65, 12.27),
        legendCol(names('Child', 12, 21), 557, 65, 12.27),
        legendCol(names('Adult', 1, 12), 457, 457.8, 12.2),
        legendCol(names('Adult', 13, 23), 557, 457.8, 12.2)
    ],
    graphic: [
        { type: 'rect', shape: { x: 454, y: 58, width: 26.7, height: 11 * 26.27 }, style: { fill: '#F2F2F2' }, silent: true },
        { type: 'rect', shape: { x: 554, y: 58, width: 26.7, height: 10 * 26.27 }, style: { fill: '#F2F2F2' }, silent: true },
        { type: 'rect', shape: { x: 454, y: 451, width: 26.7, height: 12 * 26.2 }, style: { fill: '#F2F2F2' }, silent: true },
        { type: 'rect', shape: { x: 554, y: 451, width: 26.7, height: 11 * 26.2 }, style: { fill: '#F2F2F2' }, silent: true }
    ],
    series: makeSeries('Child', childValues, childColors, childWidths, 0)
        .concat(makeSeries('Adult', adultValues, adultColors, adultWidths, 1))
};

myChart.setOption(option);
window.onresize = function () {
    myChart.resize();
};
</script>
</body>
</html>
